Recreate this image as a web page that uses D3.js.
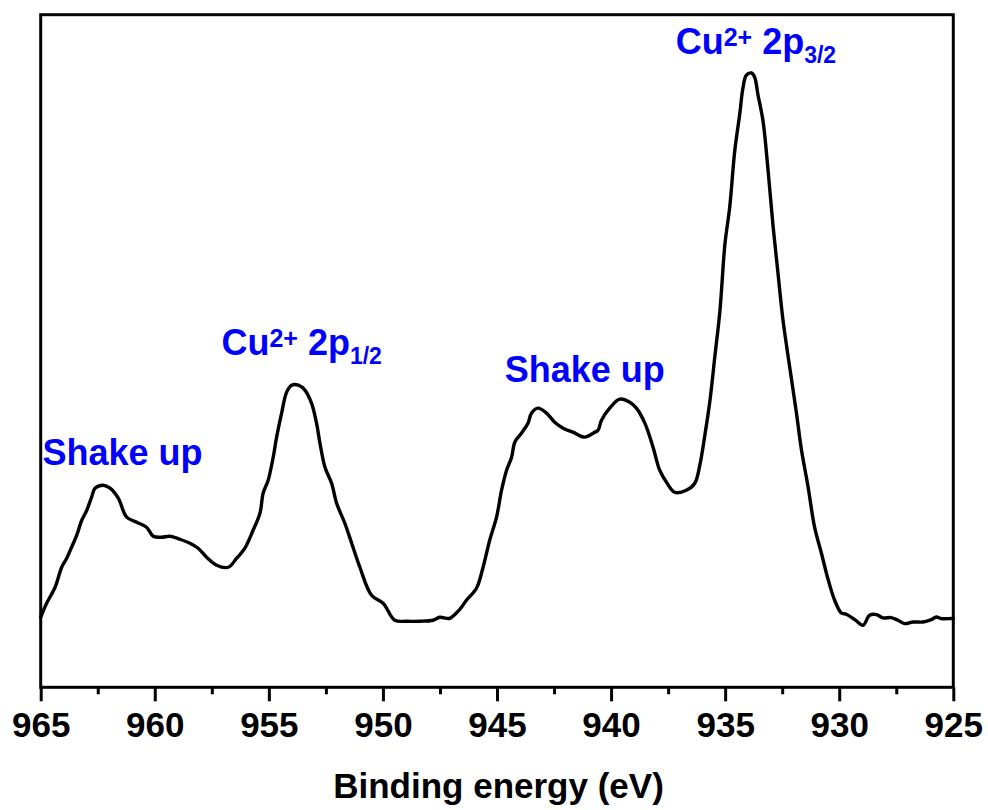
<!DOCTYPE html>
<html>
<head>
<meta charset="utf-8">
<script src="https://cdn.jsdelivr.net/npm/d3@7"></script>
<style>
  html, body { margin: 0; padding: 0; background: #fff; }
  svg { display: block; }
  text { font-family: "Liberation Sans", Arial, Helvetica, sans-serif; font-weight: bold; }
</style>
</head>
<body>
<svg id="chart" width="988" height="810"></svg>
<script>
// Binding energy (eV)
const energy = [
  965.00, 964.74, 964.37, 964.08, 963.86, 963.57, 963.42, 963.20, 962.98, 962.77,
  962.62, 962.26, 961.96, 961.60, 961.23, 960.79, 960.36, 960.07, 959.70, 959.34,
  958.90, 958.46, 958.10, 957.73, 957.29, 956.78, 956.41, 956.05, 955.69, 955.39,
  955.25, 955.03, 954.81, 954.66, 954.44, 954.22, 954.00, 953.71, 953.42, 953.13,
  952.91, 952.76, 952.54, 952.25, 952.03, 951.67, 951.37, 951.01, 950.50, 949.99,
  949.48, 948.96, 948.38, 947.80, 947.51, 947.07, 946.63, 946.34, 945.90, 945.61,
  945.32, 945.02, 944.80, 944.58, 944.36, 944.22, 943.93, 943.64, 943.49, 943.20,
  942.83, 942.47, 942.10, 941.67, 941.15, 940.79, 940.57, 940.42, 940.06, 939.62,
  939.18, 938.89, 938.52, 938.16, 937.87, 937.57, 937.21, 936.70, 936.33, 936.11,
  935.89, 935.67, 935.45, 935.23, 935.01, 934.80, 934.58, 934.36, 934.22, 934.07,
  933.85, 933.71, 933.56, 933.34, 933.12, 932.90, 932.68, 932.47, 932.17, 931.88,
  931.66, 931.37, 931.08, 930.78, 930.49, 930.20, 929.91, 929.69, 929.32, 928.96,
  928.67, 928.37, 928.08, 927.72, 927.43, 927.13, 926.77, 926.33, 925.96, 925.74,
  925.53, 925.09, 925.00
];
// Intensity (a.u.)
const intensity = [
  10.41, 12.49, 14.87, 17.85, 19.19, 21.42, 22.61, 24.84, 26.33, 28.26,
  29.60, 30.05, 29.60, 28.11, 25.29, 24.54, 23.80, 22.46, 22.31, 22.46,
  22.01, 21.42, 20.68, 19.34, 18.15, 17.85, 19.19, 20.68, 23.35, 25.88,
  28.86, 30.79, 34.21, 37.19, 40.76, 43.88, 44.92, 44.92, 44.18, 42.24,
  39.27, 36.29, 32.72, 30.34, 27.37, 24.39, 21.42, 17.85, 13.68, 12.49,
   9.97,  9.82,  9.82,  9.97, 10.41, 10.26, 11.60, 12.94, 14.73, 17.85,
  21.87, 25.29, 29.30, 32.28, 34.21, 36.44, 37.78, 39.27, 40.76, 41.50,
  40.76, 39.42, 38.52, 37.93, 37.19, 37.78, 38.23, 39.71, 41.50, 42.84,
  42.39, 41.50, 39.27, 35.70, 32.28, 30.49, 29.00, 29.30, 30.34, 33.02,
  37.48, 42.54, 49.23, 55.93, 65.89, 71.40, 79.73, 85.23, 89.10, 91.03,
  91.33, 90.73, 88.06, 84.19, 76.90, 68.57, 61.43, 54.74, 47.60, 40.90,
  35.40, 29.90, 23.80, 19.93, 16.06, 12.94, 11.05, 10.86, 10.07,  9.22,
  10.71, 10.81, 10.31, 10.37,  9.97,  9.47,  9.71,  9.71, 10.07, 10.46,
  10.22, 10.22, 10.22
];
const xDomain = [965, 925];
const yDomain = [0, 100];
const majorTicks = [965, 960, 955, 950, 945, 940, 935, 930, 925];
const minorTicks = [962.5, 957.5, 952.5, 947.5, 942.5, 937.5, 932.5, 927.5];
const xTitle = "Binding energy (eV)";
// annotations: [main, superscript, main2, subscript] anchored at an energy / intensity
const annotations = [
  { parts: ["Shake up"], e: 964.92, v: 33.05 },
  { parts: ["Cu", "2+", " 2p", "1/2"], e: 957.08, v: 49.41 },
  { parts: ["Shake up"], e: 944.66, v: 45.39 },
  { parts: ["Cu", "2+", " 2p", "3/2"], e: 937.17, v: 94.23 }
];

const L = 40.7, R = 953.3, T = 14.7, B = 687.3;
const svg = d3.select("#chart");
const x = d3.scaleLinear().domain(xDomain).range([L, R]);
const y = d3.scaleLinear().domain(yDomain).range([B, T]);

// data line
const data = energy.map((e, i) => ({ e, v: intensity[i] }));
svg.append("path")
  .datum(data)
  .attr("fill", "none")
  .attr("stroke", "#000")
  .attr("stroke-width", 3.4)
  .attr("stroke-linejoin", "round")
  .attr("stroke-linecap", "round")
  .attr("d", d3.line().curve(d3.curveCatmullRom.alpha(0.5)).x(d => x(d.e)).y(d => y(d.v)));

// minor ticks
const minorAxis = svg.append("g")
  .attr("transform", `translate(0,${B})`)
  .call(d3.axisBottom(x).tickValues(minorTicks).tickSize(7).tickSizeOuter(0).tickFormat(""));
minorAxis.select(".domain").remove();
minorAxis.selectAll("line").attr("stroke", "#000").attr("stroke-width", 3);

// major ticks
const majorAxis = svg.append("g")
  .attr("transform", `translate(0,${B})`)
  .call(d3.axisBottom(x).tickValues(majorTicks).tickSize(14).tickSizeOuter(0).tickFormat(d3.format("d")));
majorAxis.select(".domain").remove();
majorAxis.selectAll("line").attr("stroke", "#000").attr("stroke-width", 3);
majorAxis.selectAll("text")
  .attr("dy", null)
  .attr("y", 49.7)
  .attr("fill", "#000")
  .style("font-size", "35px")
  .style("font-family", "'Liberation Sans', Arial, sans-serif")
  .style("font-weight", "bold");

// frame
svg.append("rect")
  .attr("x", L).attr("y", T)
  .attr("width", R - L).attr("height", B - T)
  .attr("fill", "none")
  .attr("stroke", "#000")
  .attr("stroke-width", 3);

// axis title
svg.append("text")
  .attr("x", (L + R) / 2 + 1.5)
  .attr("y", 797.5)
  .attr("text-anchor", "middle")
  .style("font-size", "35px")
  .attr("fill", "#000")
  .text(xTitle);

// annotations
annotations.forEach(a => {
  const t = svg.append("text")
    .attr("x", x(a.e))
    .attr("y", y(a.v))
    .attr("fill", "#0000ff")
    .style("font-size", "36px");
  if (a.parts.length === 1) {
    t.text(a.parts[0]);
  } else {
    t.append("tspan").text(a.parts[0]);
    t.append("tspan").attr("dy", -8).style("font-size", "25px").text(a.parts[1]);
    t.append("tspan").attr("dy", 8).style("font-size", "36px").text(a.parts[2]);
    t.append("tspan").attr("dy", 9).style("font-size", "23px").text(a.parts[3]);
  }
});
</script>
</body>
</html>
